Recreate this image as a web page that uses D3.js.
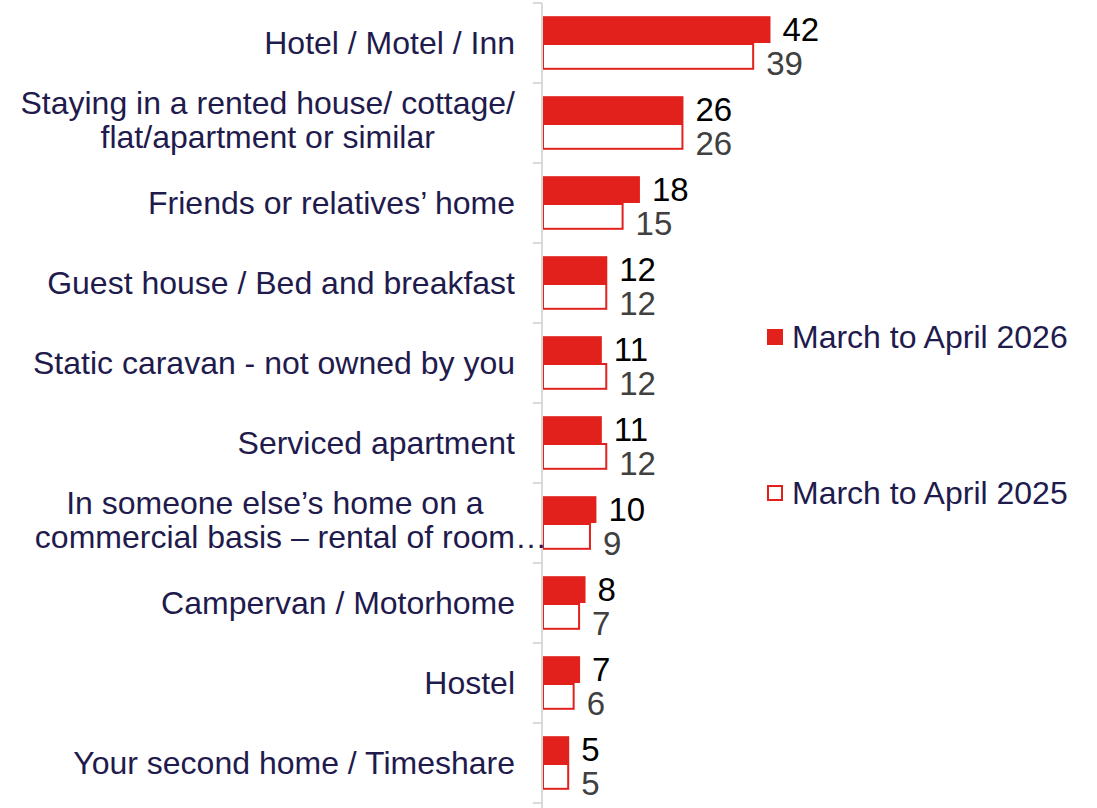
<!DOCTYPE html>
<html>
<head>
<meta charset="utf-8">
<script src="https://cdn.jsdelivr.net/npm/d3@7"></script>
<style>
  body { margin: 0; background: #fff; }
  svg { display: block; font-family: "Liberation Sans", Arial, sans-serif; }
</style>
</head>
<body>
<svg id="chart" width="1097" height="808"></svg>
<script>
// categories (each label split into its display lines)
const categories = [
    ["Hotel / Motel / Inn"],
    ["Staying in a rented house/ cottage/", "flat/apartment or similar"],
    ["Friends or relatives\u2019 home"],
    ["Guest house / Bed and breakfast"],
    ["Static caravan - not owned by you"],
    ["Serviced apartment"],
    ["In someone else\u2019s home on a", "commercial basis \u2013 rental of room\u2026"],
    ["Campervan / Motorhome"],
    ["Hostel"],
    ["Your second home / Timeshare"]
];
const seriesNames = ["March to April 2026", "March to April 2025"];
const values2026 = [42, 26, 18, 12, 11, 11, 10, 8, 7, 5];
const values2025 = [39, 26, 15, 12, 12, 12, 9, 7, 6, 5];

const red = "#e2201c";
const navy = "#1f1b4d";

const svg = d3.select("#chart");
const axisX = 542;

const y = d3.scaleBand()
    .domain(d3.range(categories.length))
    .range([3, 803])
    .paddingInner(0.33)
    .paddingOuter(0.165);

const ySub = d3.scaleBand()
    .domain([0, 1])
    .range([0, y.bandwidth()]);

const x = d3.scaleLinear()
    .domain([0, 100])
    .range([axisX, axisX + 544]);

const step = y.step();
const bandTop = i => y(i) - y.paddingInner() * step / 2;
const bandMid = i => y(i) + y.bandwidth() / 2;

// bars
const groups = svg.append("g").selectAll("g")
    .data(categories.map((c, i) => ({i, a: values2026[i], b: values2025[i]})))
    .join("g")
    .attr("transform", d => `translate(0,${y(d.i)})`);

groups.append("rect")
    .attr("x", x(0))
    .attr("y", ySub(0))
    .attr("width", d => x(d.a) - x(0))
    .attr("height", ySub.bandwidth())
    .attr("fill", red);

groups.append("rect")
    .attr("x", x(0) + 1)
    .attr("y", ySub(1) + 1)
    .attr("width", d => x(d.b) - x(0) - 2)
    .attr("height", ySub.bandwidth() - 2)
    .attr("fill", "#fff")
    .attr("stroke", red)
    .attr("stroke-width", 2);

// value labels
groups.append("text")
    .attr("x", d => x(d.a) + 12)
    .attr("y", ySub(0) + ySub.bandwidth() / 2 + 11)
    .attr("font-size", 33)
    .attr("fill", "#000")
    .text(d => d.a);

groups.append("text")
    .attr("x", d => x(d.b) + 12)
    .attr("y", ySub(1) + ySub.bandwidth() / 2 + 19)
    .attr("font-size", 33)
    .attr("fill", "#404040")
    .text(d => d.b);

// axis line + ticks
const axis = svg.append("g");
axis.append("line")
    .attr("x1", axisX).attr("x2", axisX)
    .attr("y1", bandTop(0)).attr("y2", 808)
    .attr("stroke", "#d9d9d9").attr("stroke-width", 2);
axis.selectAll(".tick")
    .data(d3.range(categories.length + 1))
    .join("line")
    .attr("x1", axisX - 9).attr("x2", axisX)
    .attr("y1", i => bandTop(0) + i * step)
    .attr("y2", i => bandTop(0) + i * step)
    .attr("stroke", "#d9d9d9").attr("stroke-width", 2);

// category labels
const labelRight = 515;
categories.forEach((lines, i) => {
    const cy = bandMid(i);
    if (lines.length === 1) {
        svg.append("text")
            .attr("x", labelRight)
            .attr("y", cy + 11)
            .attr("text-anchor", "end")
            .attr("font-size", 32)
            .attr("fill", navy)
            .text(lines[0]);
    } else {
        // centred block; a truncated line's ellipsis is allowed to overflow
        const texts = lines.map((ln, k) => svg.append("text")
            .attr("y", cy - 9 + k * 34)
            .attr("text-anchor", "middle")
            .attr("font-size", 32)
            .attr("fill", navy)
            .text(ln));
        const widths = texts.map(t => {
            const s = t.text().replace(/\u2026$/, "");
            t.text(s);
            const w = t.node().getComputedTextLength();
            return w;
        });
        const blockW = d3.max(widths);
        const left = labelRight - blockW;
        texts.forEach((t, k) => {
            t.text(lines[k]);
            t.attr("text-anchor", "start")
                .attr("x", left + (blockW - widths[k]) / 2);
        });
    }
});

// legend
const legend = svg.append("g");
const legendY = [337, 493];
legend.append("rect")
    .attr("x", 767).attr("y", legendY[0] - 8)
    .attr("width", 16).attr("height", 16)
    .attr("fill", red);
legend.append("rect")
    .attr("x", 768).attr("y", legendY[1] - 7)
    .attr("width", 14).attr("height", 14)
    .attr("fill", "#fff").attr("stroke", red).attr("stroke-width", 2);
legend.selectAll("text")
    .data(seriesNames)
    .join("text")
    .attr("x", 792)
    .attr("y", (d, i) => legendY[i] + 11)
    .attr("font-size", 32)
    .attr("fill", navy)
    .text(d => d);
</script>
</body>
</html>
